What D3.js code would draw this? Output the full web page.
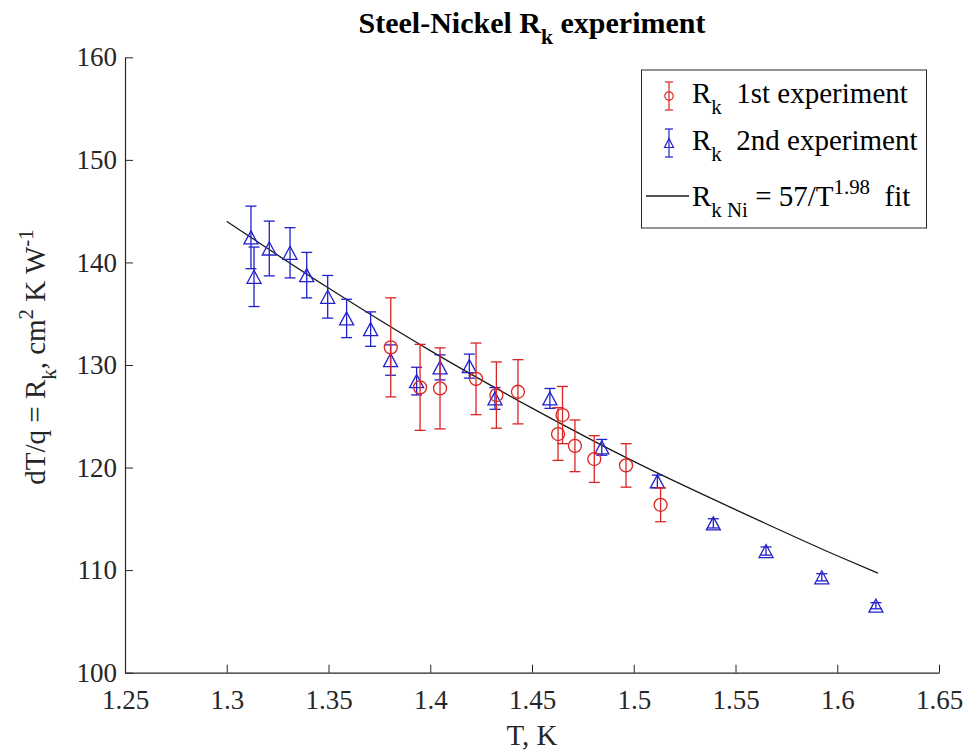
<!DOCTYPE html>
<html>
<head>
<meta charset="utf-8">
<script src="https://cdn.jsdelivr.net/npm/d3@7"></script>
<style>
  body { margin: 0; background: #fff; }
  svg text { font-family: "Liberation Serif", "Times New Roman", serif; }
</style>
</head>
<body>
<div id="chart"></div>
<script>
// values
const xTicks = [1.25, 1.3, 1.35, 1.4, 1.45, 1.5, 1.55, 1.6, 1.65];
const xTickLabels = ["1.25", "1.3", "1.35", "1.4", "1.45", "1.5", "1.55", "1.6", "1.65"];
const yTicks = [100, 110, 120, 130, 140, 150, 160];

// 1st experiment (red circles): T, Rk, half error
const exp1T = [1.3806, 1.3950, 1.4048, 1.4225, 1.4325, 1.4431, 1.4650, 1.4628, 1.4711, 1.4806, 1.4962, 1.5132];
const exp1R = [131.72, 127.82, 127.72, 128.65, 127.07, 127.39, 125.12, 123.27, 122.12, 120.83, 120.21, 116.37];
const exp1E = [4.83, 4.19, 3.95, 3.49, 3.23, 3.13, 2.79, 2.57, 2.52, 2.28, 2.12, 1.65];

// 2nd experiment (blue triangles)
const exp2T = [1.3119, 1.3134, 1.3209, 1.3311, 1.3393, 1.3496, 1.3589, 1.3707, 1.3805, 1.3933,
               1.4048, 1.4192, 1.4318, 1.4588, 1.4843, 1.5116, 1.5391, 1.5650, 1.5924, 1.6190];
const exp2R = [142.44, 138.60, 141.36, 140.94, 138.76, 136.65, 134.54, 133.50, 130.48, 128.43,
               129.77, 129.89, 126.74, 126.74, 121.97, 118.65, 114.56, 111.86, 109.30, 106.53];
const exp2E = [3.05, 2.90, 2.67, 2.45, 2.22, 2.08, 1.87, 1.68, 1.48, 1.35,
               1.22, 1.17, 1.06, 0.97, 0.77, 0.61, 0.45, 0.40, 0.35, 0.30];

// fit line
const fitT = [1.30, 1.35, 1.40, 1.45, 1.50, 1.55, 1.60, 1.62];
const fitR = [144.0, 137.5, 131.4, 125.8, 120.6, 115.9, 111.4, 109.7];

const titleParts = [{t: "Steel-Nickel R"}, {t: "k", s: "sub"}, {t: " experiment"}];
const xLabel = "T, K";
const yLabelParts = [{t: "dT/q = R"}, {t: "k", s: "sub"}, {t: ", cm"}, {t: "2", s: "sup"}, {t: " K W"}, {t: "-1", s: "sup"}];
const legendLabels = [
  [{t: "R"}, {t: "k", s: "sub"}, {t: "\u00a0 1st experiment"}],
  [{t: "R"}, {t: "k", s: "sub"}, {t: "\u00a0 2nd experiment"}],
  [{t: "R"}, {t: "k Ni", s: "sub"}, {t: " = 57/T"}, {t: "1.98", s: "sup"}, {t: "\u00a0 fit"}]
];

const serif = "Liberation Serif, Times New Roman, serif";
const red = "#dd2424";
const blue = "#2020cc";
const axisColor = "#262626";

const W = 976, H = 752;
const svg = d3.select("#chart").append("svg")
    .attr("width", W)
    .attr("height", H);
svg.append("rect").attr("width", W).attr("height", H).attr("fill", "#fff");

const x = d3.scaleLinear().domain([1.25, 1.65]).range([125, 939]);
const y = d3.scaleLinear().domain([100, 160]).range([672.7, 57.3]);

// write text with sub / superscripts
function rich(textSel, parts, size) {
  let off = 0;
  parts.forEach(p => {
    let target = 0, fs = size;
    if (p.s === "sub") { target = size * 0.38; fs = size * 0.72; }
    if (p.s === "sup") { target = -size * 0.42; fs = size * 0.72; }
    textSel.append("tspan")
        .attr("dy", target - off)
        .attr("font-size", fs)
        .text(p.t);
    off = target;
  });
}

// axes
const xAxis = svg.append("g")
    .attr("transform", `translate(0,${y(100)})`)
    .call(d3.axisBottom(x).tickValues(xTicks).tickSize(-8).tickSizeOuter(0)
        .tickPadding(17).tickFormat((d, i) => xTickLabels[i]));
const yAxis = svg.append("g")
    .attr("transform", `translate(${x(1.25)},0)`)
    .call(d3.axisLeft(y).tickValues(yTicks).tickSize(-8).tickSizeOuter(0)
        .tickPadding(8));

[xAxis, yAxis].forEach(a => {
  a.attr("font-family", serif);
  a.select(".domain").attr("stroke", axisColor).attr("stroke-width", 1.2);
  a.selectAll(".tick line").attr("stroke", axisColor).attr("stroke-width", 1);
  a.selectAll(".tick text")
      .attr("fill", axisColor)
      .attr("font-size", 27)
      .attr("font-family", serif);
});

// title
const title = svg.append("text")
    .attr("x", x(1.45))
    .attr("y", 33)
    .attr("text-anchor", "middle")
    .attr("font-family", serif)
    .attr("font-weight", "bold")
    .attr("font-size", 30)
    .attr("fill", "#000");
rich(title, titleParts, 30);

// axis labels
svg.append("text")
    .attr("x", x(1.45))
    .attr("y", 745)
    .attr("text-anchor", "middle")
    .attr("font-family", serif)
    .attr("font-size", 29)
    .attr("fill", axisColor)
    .text(xLabel);

const yl = svg.append("text")
    .attr("transform", `translate(45,${(y(100) + y(160)) / 2 - 8}) rotate(-90)`)
    .attr("text-anchor", "middle")
    .attr("font-family", serif)
    .attr("font-size", 29)
    .attr("fill", axisColor);
rich(yl, yLabelParts, 29);

// fit line
svg.append("path")
    .datum(fitT.map((t, i) => [t, fitR[i]]))
    .attr("fill", "none")
    .attr("stroke", "#1a1a1a")
    .attr("stroke-width", 1.3)
    .attr("d", d3.line().x(d => x(d[0])).y(d => y(d[1])).curve(d3.curveMonotoneX));

// error bars
function errorBars(T, R, E, color, cls) {
  const data = T.map((t, i) => ({t, r: R[i], e: E[i]}));
  const g = svg.append("g").attr("class", cls)
      .attr("stroke", color).attr("stroke-width", 1.3).attr("fill", "none");
  const cap = 5.5;
  g.selectAll(".v").data(data).enter().append("line")
      .attr("x1", d => x(d.t)).attr("x2", d => x(d.t))
      .attr("y1", d => y(d.r - d.e)).attr("y2", d => y(d.r + d.e));
  g.selectAll(".top").data(data).enter().append("line")
      .attr("x1", d => x(d.t) - cap).attr("x2", d => x(d.t) + cap)
      .attr("y1", d => y(d.r + d.e)).attr("y2", d => y(d.r + d.e));
  g.selectAll(".bot").data(data).enter().append("line")
      .attr("x1", d => x(d.t) - cap).attr("x2", d => x(d.t) + cap)
      .attr("y1", d => y(d.r - d.e)).attr("y2", d => y(d.r - d.e));
  return {g, data};
}

const tri = (w, h) => `M0,${-h / 2}L${w / 2},${h / 2}L${-w / 2},${h / 2}Z`;

const b = errorBars(exp2T, exp2R, exp2E, blue, "exp2");
b.g.selectAll(".m").data(b.data).enter().append("path")
    .attr("transform", d => `translate(${x(d.t)},${y(d.r)})`)
    .attr("d", tri(14, 13));

const r = errorBars(exp1T, exp1R, exp1E, red, "exp1");
r.g.selectAll(".m").data(r.data).enter().append("circle")
    .attr("cx", d => x(d.t)).attr("cy", d => y(d.r)).attr("r", 6.5);

// legend
const lg = svg.append("g");
lg.append("rect")
    .attr("x", 641.5).attr("y", 70).attr("width", 285).attr("height", 158)
    .attr("fill", "#fff").attr("stroke", axisColor).attr("stroke-width", 1);

const rowY = [103, 150, 206];
function legendBar(cx, cy, color, marker) {
  const g = lg.append("g").attr("stroke", color).attr("stroke-width", 1.2).attr("fill", "none");
  g.append("line").attr("x1", cx).attr("x2", cx).attr("y1", cy - 14).attr("y2", cy + 14);
  g.append("line").attr("x1", cx - 4).attr("x2", cx + 4).attr("y1", cy - 14).attr("y2", cy - 14);
  g.append("line").attr("x1", cx - 4).attr("x2", cx + 4).attr("y1", cy + 14).attr("y2", cy + 14);
  if (marker === "circle") g.append("circle").attr("cx", cx).attr("cy", cy).attr("r", 4.2);
  else g.append("path").attr("transform", `translate(${cx},${cy})`).attr("d", tri(9, 9));
}
legendBar(669, rowY[0] - 7, red, "circle");
legendBar(669, rowY[1] - 7, blue, "tri");
lg.append("line")
    .attr("x1", 646).attr("x2", 689).attr("y1", rowY[2] - 10).attr("y2", rowY[2] - 10)
    .attr("stroke", "#1a1a1a").attr("stroke-width", 1.3);

legendLabels.forEach((parts, i) => {
  const t = lg.append("text")
      .attr("x", 692).attr("y", rowY[i])
      .attr("font-family", serif)
      .attr("font-size", 29)
      .attr("fill", "#000");
  rich(t, parts, 29);
});
</script>
</body>
</html>
